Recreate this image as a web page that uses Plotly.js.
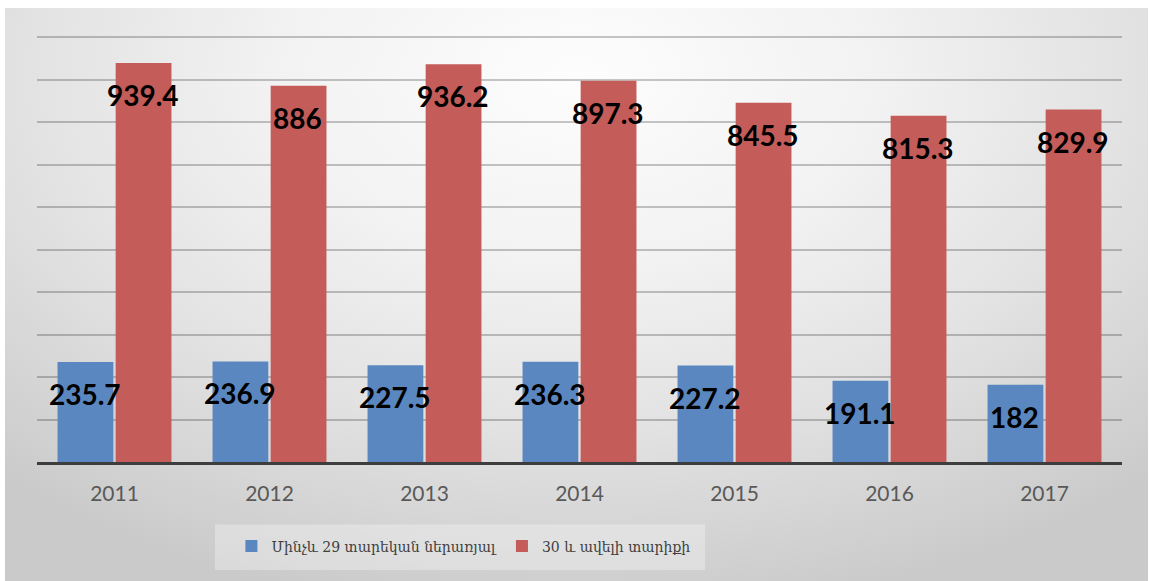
<!DOCTYPE html>
<html>
<head>
<meta charset="utf-8">
<script src="https://cdn.plot.ly/plotly-3.0.1.min.js"></script>
<style>
  html, body { margin: 0; padding: 0; background: #ffffff; }
  #wrap { position: relative; width: 1150px; height: 581px; overflow: hidden; }
  #bg { position: absolute; left: 5px; top: 8px; width: 1143px; height: 573px;
        background: radial-gradient(ellipse 75% 95% at 50% 12%, #fdfdfd 0%, #f2f2f2 35%, #e2e2e2 65%, #cacaca 100%); }
  #chart { position: absolute; left: 0; top: 0; width: 1150px; height: 581px; }
</style>
</head>
<body>
<div id="wrap">
  <div id="bg"></div>
  <div id="chart"></div>
</div>
<script>
// Data
const years = ['2011', '2012', '2013', '2014', '2015', '2016', '2017'];
const seriesNames = ['Մինչև 29 տարեկան ներառյալ', '30 և ավելի տարիքի'];
const youngValues = [235.7, 236.9, 227.5, 236.3, 227.2, 191.1, 182];
const olderValues = [939.4, 886, 936.2, 897.3, 845.5, 815.3, 829.9];
const youngLabels = ['235.7', '236.9', '227.5', '236.3', '227.2', '191.1', '182'];
const olderLabels = ['939.4', '886', '936.2', '897.3', '845.5', '815.3', '829.9'];

const blue = '#5b87c0';
const red = '#c45c59';

const traces = [
  { type: 'bar', name: seriesNames[0], x: years, y: youngValues,
    marker: { color: blue }, hoverinfo: 'none', textposition: 'none' },
  { type: 'bar', name: seriesNames[1], x: years, y: olderValues,
    marker: { color: red }, hoverinfo: 'none', textposition: 'none' }
];

const labelFont = { family: 'Lato, "Liberation Sans", sans-serif', size: 28, color: '#000000' };
const annotations = [];
years.forEach((yr, i) => {
  annotations.push({ x: i, y: youngValues[i], xref: 'x', yref: 'y', text: '<b>' + youngLabels[i] + '</b>',
    showarrow: false, xshift: -30, yshift: -32, yanchor: 'middle', xanchor: 'center', font: labelFont });
  annotations.push({ x: i, y: olderValues[i], xref: 'x', yref: 'y', text: '<b>' + olderLabels[i] + '</b>',
    showarrow: false, xshift: 28, yshift: -32, yanchor: 'middle', xanchor: 'center', font: labelFont });
});

const layout = {
  width: 1150, height: 581,
  margin: { l: 37, r: 28, t: 33, b: 119 },
  paper_bgcolor: 'rgba(0,0,0,0)',
  plot_bgcolor: 'rgba(0,0,0,0)',
  barmode: 'group',
  bargap: 0.25,
  bargroupgap: 0.04,
  showlegend: true,
  legend: {
    orientation: 'h', x: 0.393, xanchor: 'center', y: -0.197, yanchor: 'middle',
    bgcolor: 'rgba(0,0,0,0)',
    font: { family: '"DejaVu Serif", serif', size: 14, color: '#404040' },
    itemclick: false, itemdoubleclick: false
  },
  xaxis: {
    type: 'category',
    categoryorder: 'array', categoryarray: years,
    range: [-0.5, years.length - 0.5],
    showline: true, linecolor: '#3d3d3d', linewidth: 3,
    showgrid: false, zeroline: false, ticks: '',
    ticklabelstandoff: 11,
    tickfont: { family: 'Lato, "Liberation Sans", sans-serif', size: 21, color: '#595959' },
    fixedrange: true
  },
  yaxis: {
    range: [0, 1010], dtick: 100, tick0: 0,
    showticklabels: false, ticks: '',
    showgrid: true, gridcolor: 'rgba(0,0,0,0.22)', gridwidth: 2,
    zeroline: false, showline: false,
    fixedrange: true
  },
  shapes: [
    { type: 'rect', xref: 'paper', yref: 'paper', x0: 0.164, x1: 0.6157, y0: -0.1459, y1: -0.2518,
      fillcolor: 'rgba(255,255,255,0.3)', line: { width: 0 }, layer: 'below' }
  ],
  annotations: annotations
};

Plotly.newPlot('chart', traces, layout, { displayModeBar: false, staticPlot: true });
</script>
</body>
</html>
